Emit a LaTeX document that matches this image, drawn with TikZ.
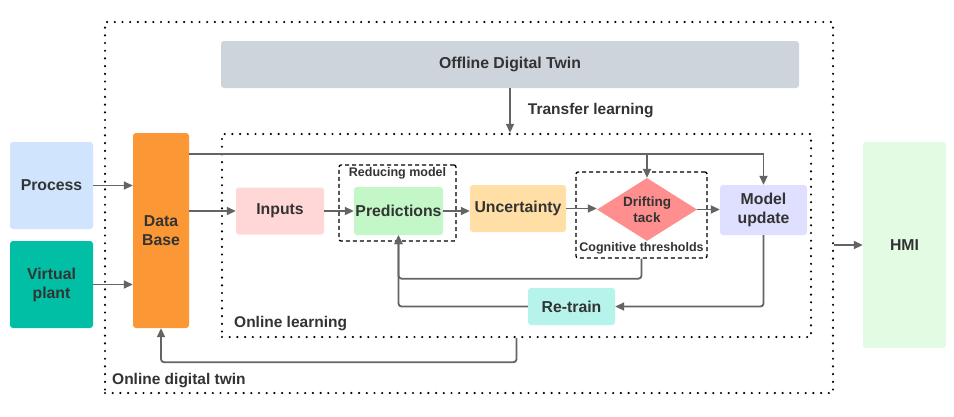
\documentclass[tikz,border=0pt]{standalone}
\usepackage{fontspec}
\setmainfont{Liberation Sans}
\usetikzlibrary{arrows.meta,shapes.geometric,calc}
\definecolor{txt}{HTML}{333333}
\definecolor{ln}{HTML}{646464}
\definecolor{cOff}{HTML}{CED4DC}
\definecolor{cProc}{HTML}{D0E4FD}
\definecolor{cVp}{HTML}{00BFA5}
\definecolor{cDb}{HTML}{FB9735}
\definecolor{cInp}{HTML}{FFD7D7}
\definecolor{cPred}{HTML}{C3F7C8}
\definecolor{cUnc}{HTML}{FFDFA6}
\definecolor{cMu}{HTML}{DFDFFF}
\definecolor{cRt}{HTML}{B6F3EB}
\definecolor{cHmi}{HTML}{E3FAE3}
\definecolor{cDt}{HTML}{FF8E8E}
\tikzset{
  box/.style={draw=none,rounded corners=3pt,inner sep=0pt,align=center,text=txt,font=\bfseries\fontsize{15.8}{19}\selectfont},
  arr/.style={draw=ln,line width=1.8pt,-{Triangle[length=9pt,width=8pt]}},
  dotbox/.style={draw=black,line width=2.4pt,dash pattern=on 0pt off 7.7pt,line cap=round,inner sep=0pt},
  dashbox/.style={draw=black,line width=1.3pt,dash pattern=on 4pt off 3pt,rounded corners=2pt,inner sep=0pt},
  lbl/.style={text=txt,font=\bfseries\fontsize{15.5}{18}\selectfont,inner sep=0pt},
  slbl/.style={text=txt,font=\bfseries\fontsize{12.5}{15}\selectfont,inner sep=0pt},
}
\begin{document}
\begin{tikzpicture}[x=1pt,y=-1pt]
\useasboundingbox (0,0) rectangle (954,416);
\fill[white] (0,0) rectangle (954,416);
% frames
\node[dotbox,minimum width=728,minimum height=371] (odt) at (469,207.5) {};
\node[dotbox,minimum width=589,minimum height=203] (ol) at (516.5,235.5) {};
\node[lbl,anchor=west] (odtl) at (112,381) {Online digital twin};
\node[lbl,anchor=west] (oll) at (234,324) {Online learning};
% boxes
\node[box,fill=cOff,minimum width=578,minimum height=47] (off) at (510,64.5) {Offline Digital Twin};
\node[box,fill=cProc,minimum width=83,minimum height=87] (proc) at (51.5,185.5) {Process};
\node[box,fill=cVp,minimum width=83,minimum height=87] (vp) at (51.5,284.5) {Virtual\\plant};
\node[box,fill=cDb,minimum width=56,minimum height=195] (db) at (161,230.5) {Data\\Base};
\node[box,fill=cInp,minimum width=88,minimum height=47] (inp) at (280,211) {Inputs};
\node[box,fill=cPred,minimum width=89,minimum height=48] (pred) at (398.5,211) {Predictions};
\node[box,fill=cUnc,minimum width=96,minimum height=47] (unc) at (518,208.5) {Uncertainty};
\node[box,fill=cMu,minimum width=87,minimum height=50] (mu) at (763.5,210) {Model\\update};
\node[box,fill=cRt,minimum width=87,minimum height=37] (rt) at (571.5,306.5) {Re-train};
\node[box,fill=cHmi,minimum width=83,minimum height=206] (hmi) at (904.5,245) {HMI};
% dashed groups
\node[dashbox,minimum width=117,minimum height=76] (red) at (397.5,203) {};
\node[slbl,anchor=north] (redl) at ([yshift=-3pt]red.north) {Reducing model};
\node[dashbox,minimum width=131,minimum height=86] (cog) at (641.5,215) {};
\node[slbl,anchor=south] (cogl) at ([yshift=4pt]cog.south) {Cognitive thresholds};
% diamond
\node[diamond,fill=cDt,draw=none,minimum width=100,minimum height=63,inner sep=0pt] (dt) at (647,209.5) {};
\node[text=txt,font=\bfseries\fontsize{13.5}{16}\selectfont,align=center,inner sep=0pt] (dtl) at (dt) {Drifting\\tack};
% connectors
\draw[arr] (off.south) -- node[lbl,right=17pt] {Transfer learning} (off.south |- ol.north);
\draw[arr] (proc.east) -- (db.west |- proc.east);
\draw[arr] (vp.east) -- (db.west |- vp.east);
\draw[arr] (db.east |- inp.west) -- (inp.west);
\coordinate (top) at ($(db.north east)+(0,21)$);
\draw[arr] (top) -| (mu.north);
\draw[arr] (top -| dt.north) -- (dt.north);
\draw[arr] (inp.east) -- (inp.east -| pred.west);
\draw[arr] (pred.east) -- (pred.east -| unc.west);
\draw[arr] (unc.east) -- (unc.east -| dt.west);
\draw[arr] (dt.east) -- (dt.east -| mu.west);
\draw[arr,rounded corners=3pt] (cog.south) -- ++(0,20) -| (pred.south);
\draw[arr,rounded corners=3pt] (mu.south) |- (rt.east);
\draw[arr,rounded corners=3pt] (rt.west) -| (pred.south);
\draw[arr,rounded corners=3pt] (ol.south) -- ++(0,24) -| (db.south);
\draw[arr] (odt.east |- hmi.west) -- (hmi.west);
\end{tikzpicture}
\end{document}
